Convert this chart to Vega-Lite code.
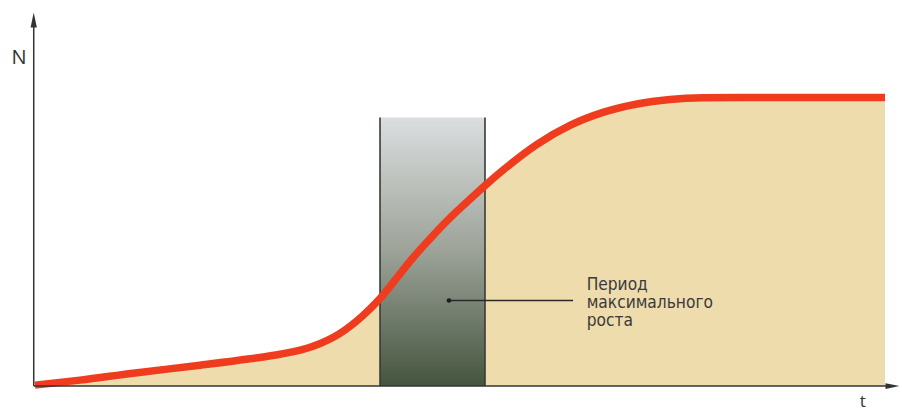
{
  "$schema": "https://vega.github.io/schema/vega-lite/v6.json",
  "width": 902,
  "height": 411,
  "padding": 0,
  "autosize": {"type": "fit", "contains": "padding"},
  "background": "#ffffff",
  "config": {"view": {"stroke": null}},
  "datasets": {
    "curve": [
      {"t": 0, "N": 0.34},
      {"t": 5.29, "N": 2.07},
      {"t": 11.53, "N": 4.48},
      {"t": 19.41, "N": 7.24},
      {"t": 25.29, "N": 9.48},
      {"t": 28.82, "N": 11.03},
      {"t": 32.71, "N": 13.79},
      {"t": 35.88, "N": 18.28},
      {"t": 38.59, "N": 24.48},
      {"t": 40.59, "N": 30.34},
      {"t": 42.59, "N": 37.59},
      {"t": 44.47, "N": 44.48},
      {"t": 46.47, "N": 51.03},
      {"t": 48.47, "N": 57.24},
      {"t": 50.82, "N": 63.79},
      {"t": 52.94, "N": 69.48},
      {"t": 55.06, "N": 74.83},
      {"t": 59.06, "N": 83.79},
      {"t": 62.94, "N": 90.34},
      {"t": 66.82, "N": 94.83},
      {"t": 70.82, "N": 97.76},
      {"t": 74.71, "N": 99.31},
      {"t": 78.59, "N": 99.9},
      {"t": 82.94, "N": 100},
      {"t": 100, "N": 100}
    ],
    "period": [{"t1": 40.59, "t2": 52.94, "n1": 0, "n2": 93.1}],
    "edges": [{"t": 40.59, "n1": 0, "n2": 93.1}, {"t": 52.94, "n1": 0, "n2": 93.1}],
    "leader": [{"t1": 48.7, "t2": 63.3, "N": 29.66}],
    "labels": [
      {"tx": 64.9, "N": 33.28, "label": "Период"},
      {"tx": 64.9, "N": 27.07, "label": "максимального"},
      {"tx": 64.9, "N": 20.86, "label": "роста"}
    ],
    "yaxis": [{"t": -0.15, "n1": 0, "n2": 125.2, "ta": -0.15, "na": 126.9, "label": "N", "lt": -1.88, "ln": 111.7}],
    "xaxis": [{"t1": -0.15, "t2": 100.35, "N": 0, "ta": 100.88, "label": "t", "lt": 97.4, "ln": -7.3}]
  },
  "layer": [
    {
      "data": {"name": "curve"},
      "mark": {"type": "area", "interpolate": "monotone", "color": "#eedcad"},
      "encoding": {
        "x": {"field": "t", "type": "quantitative", "scale": {"domain": [-4.118, 102], "nice": false, "zero": false}, "axis": null},
        "y": {"field": "N", "type": "quantitative", "scale": {"domain": [-7.93, 133.79], "nice": false, "zero": false}, "axis": null},
        "y2": {"datum": 0}
      }
    },
    {
      "data": {"name": "period"},
      "mark": {"type": "rect", "fill": {"gradient": "linear", "x1": 0, "y1": 0, "x2": 0, "y2": 1, "stops": [{"offset": 0, "color": "#dadedf"}, {"offset": 0.5, "color": "#9ca298"}, {"offset": 1, "color": "#44543e"}]}},
      "encoding": {
        "x": {"field": "t1", "type": "quantitative"},
        "x2": {"field": "t2"},
        "y": {"field": "n2", "type": "quantitative"},
        "y2": {"field": "n1"}
      }
    },
    {
      "data": {"name": "edges"},
      "mark": {"type": "rule", "color": "#3a3a38", "strokeWidth": 1.6},
      "encoding": {
        "x": {"field": "t", "type": "quantitative"},
        "y": {"field": "n1", "type": "quantitative"},
        "y2": {"field": "n2"}
      }
    },
    {
      "data": {"name": "curve"},
      "mark": {"type": "line", "interpolate": "monotone", "color": "#f03c1e", "strokeWidth": 7.5, "strokeCap": "butt"},
      "encoding": {
        "x": {"field": "t", "type": "quantitative"},
        "y": {"field": "N", "type": "quantitative"}
      }
    },
    {
      "data": {"name": "leader"},
      "mark": {"type": "rule", "color": "#2a2a2a", "strokeWidth": 1.3},
      "encoding": {
        "x": {"field": "t1", "type": "quantitative"},
        "x2": {"field": "t2"},
        "y": {"field": "N", "type": "quantitative"}
      }
    },
    {
      "data": {"name": "leader"},
      "mark": {"type": "point", "filled": true, "color": "#1e1e1e", "size": 22, "opacity": 1},
      "encoding": {
        "x": {"field": "t1", "type": "quantitative"},
        "y": {"field": "N", "type": "quantitative"}
      }
    },
    {
      "data": {"name": "labels"},
      "mark": {"type": "text", "align": "left", "baseline": "alphabetic", "font": "DejaVu Sans Condensed", "fontSize": 17.2, "color": "#3a3a3a"},
      "encoding": {
        "x": {"field": "tx", "type": "quantitative"},
        "y": {"field": "N", "type": "quantitative"},
        "text": {"field": "label"}
      }
    },
    {
      "data": {"name": "yaxis"},
      "mark": {"type": "rule", "color": "#333333", "strokeWidth": 1.5},
      "encoding": {
        "x": {"field": "t", "type": "quantitative"},
        "y": {"field": "n1", "type": "quantitative"},
        "y2": {"field": "n2"}
      }
    },
    {
      "data": {"name": "yaxis"},
      "mark": {"type": "point", "filled": true, "opacity": 1, "color": "#333333", "shape": "M0,-1L0.42,1L-0.42,1Z", "size": 225},
      "encoding": {
        "x": {"field": "ta", "type": "quantitative"},
        "y": {"field": "na", "type": "quantitative"}
      }
    },
    {
      "data": {"name": "yaxis"},
      "mark": {"type": "text", "font": "Open Sans", "fontSize": 20, "color": "#333333", "align": "center", "baseline": "alphabetic"},
      "encoding": {
        "x": {"field": "lt", "type": "quantitative"},
        "y": {"field": "ln", "type": "quantitative"},
        "text": {"field": "label"}
      }
    },
    {
      "data": {"name": "xaxis"},
      "mark": {"type": "rule", "color": "#333333", "strokeWidth": 1.5},
      "encoding": {
        "x": {"field": "t1", "type": "quantitative"},
        "x2": {"field": "t2"},
        "y": {"field": "N", "type": "quantitative"}
      }
    },
    {
      "data": {"name": "xaxis"},
      "mark": {"type": "point", "filled": true, "opacity": 1, "color": "#333333", "shape": "M1,0L-1,0.42L-1,-0.42Z", "size": 196},
      "encoding": {
        "x": {"field": "ta", "type": "quantitative"},
        "y": {"field": "N", "type": "quantitative"}
      }
    },
    {
      "data": {"name": "xaxis"},
      "mark": {"type": "text", "font": "Open Sans", "fontSize": 17, "color": "#333333", "align": "center", "baseline": "alphabetic"},
      "encoding": {
        "x": {"field": "lt", "type": "quantitative"},
        "y": {"field": "ln", "type": "quantitative"},
        "text": {"field": "label"}
      }
    }
  ]
}
